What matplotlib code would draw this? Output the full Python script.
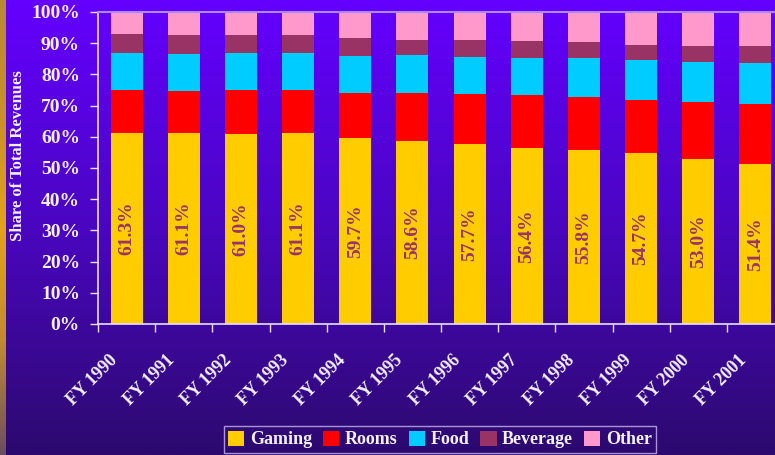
import numpy as np
import matplotlib
matplotlib.use("Agg")
import matplotlib.pyplot as plt
from matplotlib.colors import LinearSegmentedColormap
from matplotlib.patches import Patch
from matplotlib.transforms import ScaledTranslation

years = ["FY 1990", "FY 1991", "FY 1992", "FY 1993", "FY 1994", "FY 1995",
         "FY 1996", "FY 1997", "FY 1998", "FY 1999", "FY 2000", "FY 2001"]
gaming = [61.3, 61.1, 61.0, 61.1, 59.7, 58.6, 57.7, 56.4, 55.8, 54.7, 53.0, 51.4]
rooms = [13.7, 13.6, 14.0, 13.9, 14.3, 15.4, 16.0, 17.0, 17.0, 17.1, 18.2, 19.1]
food = [11.9, 11.8, 11.9, 11.9, 11.9, 12.2, 11.9, 11.9, 12.5, 12.8, 12.8, 13.2]
beverage = [6.0, 6.1, 5.7, 5.7, 5.8, 4.8, 5.4, 5.4, 5.1, 4.8, 5.1, 5.4]
other = [7.1, 7.4, 7.4, 7.4, 8.3, 9.0, 9.0, 9.3, 9.6, 10.6, 10.9, 10.9]

series = [("Gaming", gaming, "#FFCC00"), ("Rooms", rooms, "#FF0000"),
          ("Food", food, "#00CCFF"), ("Beverage", beverage, "#993366"),
          ("Other", other, "#FF99CC")]

plt.rcParams['font.family'] = ['Liberation Serif', 'DejaVu Serif']
plt.rcParams['font.weight'] = 'bold'

W, H = 775, 455
fig = plt.figure(figsize=(W / 100, H / 100), dpi=100)

bg = fig.add_axes([0, 0, 1, 1], zorder=-10)
cmap = LinearSegmentedColormap.from_list("bgc", ["#6400FF", "#4A06C0", "#2C0A6E"])
grad = np.linspace(0, 1, 256).reshape(-1, 1)
bg.imshow(grad, aspect='auto', cmap=cmap, extent=[0, 1, 0, 1], origin='upper')
strip_cmap = LinearSegmentedColormap.from_list(
    "strip", ["#B88A30", "#C89028", "#E0A418", "#C08C30", "#6A4E60"])
bg.imshow(grad, aspect='auto', cmap=strip_cmap, extent=[0, 6 / W, 0, 1], origin='upper')
bg.set_xlim(0, 1)
bg.set_ylim(0, 1)
bg.axis('off')

ax = fig.add_axes([98 / W, 1 - 324 / H, 686 / W, 312 / H])
ax.set_facecolor('none')

x = np.arange(len(years))
bottom = np.zeros(len(years))
for name, vals, col in series:
    vals = np.array(vals)
    ax.bar(x, vals, 0.56, bottom=bottom, color=col, label=name, zorder=2)
    bottom += vals

for xi, g in zip(x, gaming):
    ax.text(xi, g / 2, f"{g:.1f}%", rotation=90, ha='center', va='center',
            color="#993366", fontsize=14, fontweight='bold', zorder=3)

ax.set_xlim(-0.5, len(years) - 0.5)
ax.set_ylim(0, 100)
ax.set_yticks(np.arange(0, 101, 10))
ax.set_yticklabels([f"{v}%" for v in range(0, 101, 10)])
ax.set_xticks(x)
ax.set_xticklabels(years, rotation=45, ha='right', rotation_mode='anchor')
ax.set_xticks(np.arange(-0.5, len(years), 1), minor=True)
ax.tick_params(axis='x', which='major', length=0, pad=14, labelsize=13, labelcolor='#F4F0FF')
ax.tick_params(axis='x', which='minor', length=6, color='#E8E0FF', width=1)
ax.tick_params(axis='y', length=6, color='#E8E0FF', width=1, labelsize=14,
               labelcolor='#F4F0FF', pad=7)
off = ScaledTranslation(-18 / 100, -8 / 100, fig.dpi_scale_trans)
for lab in ax.get_xticklabels():
    lab.set_transform(lab.get_transform() + off)

for s in ['left', 'bottom']:
    ax.spines[s].set_color('#E8E0FF')
    ax.spines[s].set_linewidth(1.2)
ax.spines['top'].set_color('#A888FF')
ax.spines['top'].set_linewidth(1.5)
ax.spines['right'].set_visible(False)

fig.text(18 / W, 1 - 156 / H, "Share of Total Revenues", rotation=90, ha='center', va='center',
         color='#F4F0FF', fontsize=12, fontweight='bold')

handles = [Patch(facecolor=c, edgecolor='none', label=n) for n, _, c in series]
leg = fig.legend(handles=handles, loc='center', bbox_to_anchor=(440 / W, 1 - 439.5 / H),
                 ncol=5, frameon=True, fontsize=13, handlelength=0.9, handleheight=0.9,
                 handletextpad=0.3, columnspacing=0.62, borderpad=0.25, fancybox=False)
leg.get_frame().set_facecolor('none')
leg.get_frame().set_edgecolor('#C8B8F0')
leg.get_frame().set_linewidth(1)
for t in leg.get_texts():
    t.set_color('#F4F0FF')

fig.savefig("out.png", dpi=100)
